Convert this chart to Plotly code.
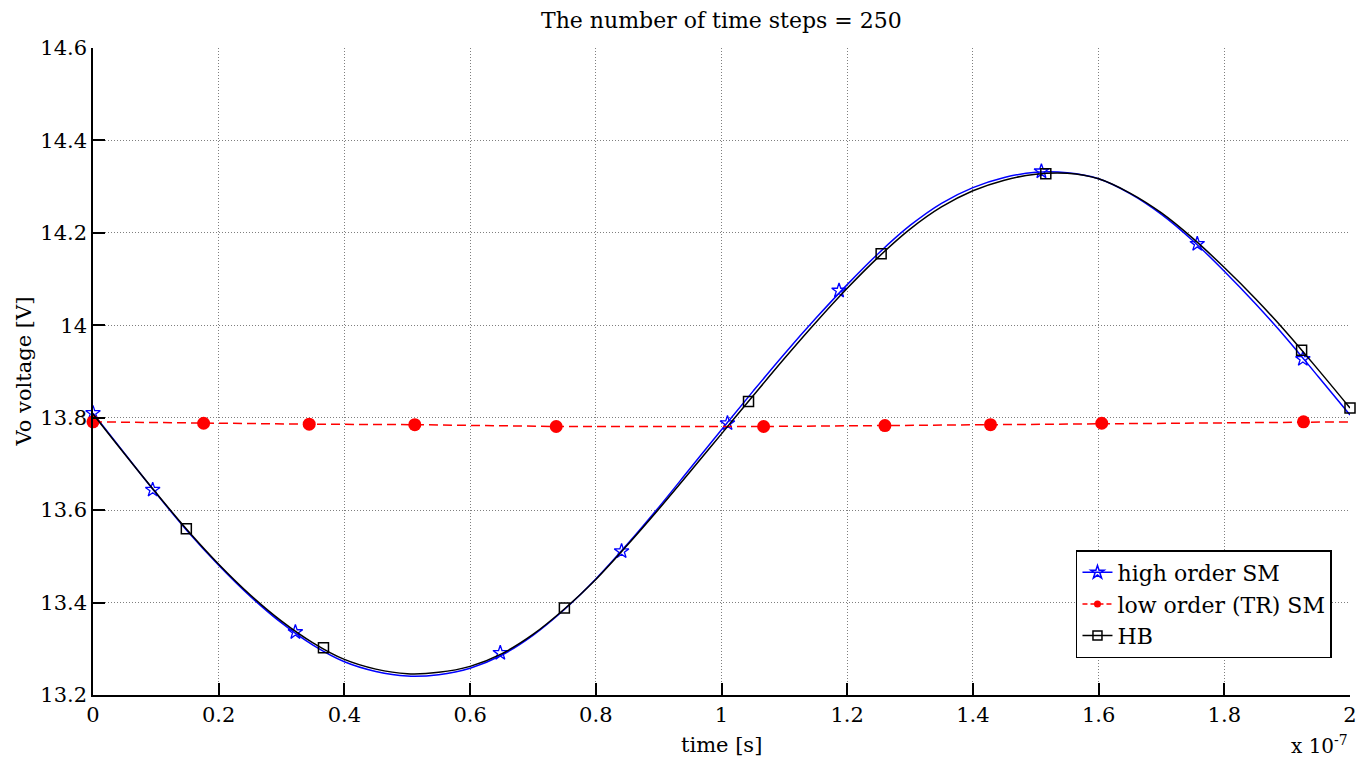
import plotly.graph_objects as go

# ---------------- data (time in units of 1e-7 s) ----------------
hi_t = [0, 0.05, 0.1, 0.15, 0.2, 0.25, 0.3, 0.35, 0.4, 0.45, 0.5, 0.55, 0.6, 0.65, 0.7,
        0.75, 0.8, 0.85, 0.9, 0.95, 1.0, 1.05, 1.1, 1.15, 1.2, 1.25, 1.3, 1.35, 1.4, 1.45,
        1.5, 1.55, 1.6, 1.65, 1.7, 1.75, 1.8, 1.85, 1.9, 1.95, 2.0]
hi_v = [13.810, 13.723, 13.637, 13.555, 13.481, 13.414, 13.356, 13.308, 13.272, 13.251,
        13.241, 13.244, 13.258, 13.286, 13.329, 13.385, 13.451, 13.526, 13.606, 13.690,
        13.774, 13.857, 13.938, 14.015, 14.088, 14.156, 14.216, 14.264, 14.298, 14.320,
        14.331, 14.330, 14.317, 14.285, 14.240, 14.183, 14.117, 14.046, 13.970, 13.888,
        13.806]
hi_mark_t = [0, 0.095, 0.322, 0.648, 0.841, 1.0095, 1.187, 1.509, 1.757, 1.925]
hi_mark_v = [13.810, 13.644, 13.336, 13.291, 13.511, 13.788, 14.075, 14.333, 14.176, 13.927]

lo_t = [0, 0.176, 0.344, 0.512, 0.737, 1.067, 1.260, 1.428, 1.605, 1.926, 2.0]
lo_v = [13.791, 13.788, 13.786, 13.785, 13.781, 13.781, 13.783, 13.785, 13.788, 13.791, 13.791]
lo_mark_t = [0, 0.176, 0.344, 0.512, 0.737, 1.067, 1.260, 1.428, 1.605, 1.926]
lo_mark_v = [13.791, 13.788, 13.786, 13.785, 13.781, 13.781, 13.783, 13.785, 13.788, 13.791]

hb_t = [0, 0.05, 0.1, 0.15, 0.2, 0.25, 0.3, 0.35, 0.4, 0.45, 0.5, 0.55, 0.6, 0.65, 0.7,
        0.75, 0.8, 0.85, 0.9, 0.95, 1.0, 1.05, 1.1, 1.15, 1.2, 1.25, 1.3, 1.35, 1.4, 1.45,
        1.5, 1.55, 1.6, 1.65, 1.7, 1.75, 1.8, 1.85, 1.9, 1.95, 2.0]
hb_v = [13.808, 13.722, 13.638, 13.557, 13.483, 13.417, 13.360, 13.313, 13.277, 13.256,
        13.246, 13.249, 13.262, 13.289, 13.331, 13.386, 13.450, 13.524, 13.602, 13.683,
        13.765, 13.847, 13.928, 14.006, 14.080, 14.148, 14.208, 14.256, 14.291, 14.314,
        14.327, 14.329, 14.317, 14.286, 14.243, 14.188, 14.125, 14.057, 13.983, 13.903,
        13.821]
hb_mark_t = [0.1485, 0.3667, 0.750, 1.043, 1.254, 1.516, 1.923, 2.0]
hb_mark_v = [13.560, 13.302, 13.388, 13.835, 14.155, 14.328, 13.946, 13.821]

x_ticks = [0, 0.2, 0.4, 0.6, 0.8, 1, 1.2, 1.4, 1.6, 1.8, 2]
x_tick_text = ["0", "0.2", "0.4", "0.6", "0.8", "1", "1.2", "1.4", "1.6", "1.8", "2"]
y_ticks = [13.2, 13.4, 13.6, 13.8, 14.0, 14.2, 14.4, 14.6]
y_tick_text = ["13.2", "13.4", "13.6", "13.8", "14", "14.2", "14.4", "14.6"]

names = ["high order SM", "low order (TR) SM", "HB"]
title_text = "The number of time steps = 250"

# ---------------- styling ----------------
FONT = "DejaVu Serif"
BLUE = "#0000ff"
RED = "#ff0000"
BLACK = "#000000"

fig = go.Figure()

# high order SM
fig.add_trace(go.Scatter(x=hi_t, y=hi_v, mode="lines", line=dict(color=BLUE, width=1.5, shape="spline"),
                         showlegend=False, cliponaxis=False))
fig.add_trace(go.Scatter(x=hi_mark_t, y=hi_mark_v, mode="markers",
                         marker=dict(symbol="star-open", size=11, color=BLUE, line=dict(width=1.3, color=BLUE)),
                         showlegend=False, cliponaxis=False))
# low order
fig.add_trace(go.Scatter(x=lo_t, y=lo_v, mode="lines", line=dict(color=RED, width=1.5, dash="9px,5px"),
                         showlegend=False, cliponaxis=False))
fig.add_trace(go.Scatter(x=lo_mark_t, y=lo_mark_v, mode="markers",
                         marker=dict(symbol="circle", size=13, color=RED),
                         showlegend=False, cliponaxis=False))
# HB
fig.add_trace(go.Scatter(x=hb_t, y=hb_v, mode="lines", line=dict(color=BLACK, width=1.5, shape="spline"),
                         showlegend=False, cliponaxis=False))
fig.add_trace(go.Scatter(x=hb_mark_t, y=hb_mark_v, mode="markers",
                         marker=dict(symbol="square-open", size=10, color=BLACK, line=dict(width=1.5, color=BLACK)),
                         showlegend=False, cliponaxis=False))

# legend entries
fig.add_trace(go.Scatter(x=[None], y=[None], mode="lines+markers", name=names[0],
                         line=dict(color=BLUE, width=1.5),
                         marker=dict(symbol="star-open", size=10, color=BLUE, line=dict(width=1.5, color=BLUE))))
fig.add_trace(go.Scatter(x=[None], y=[None], mode="lines+markers", name=names[1],
                         line=dict(color=RED, width=1.5, dash="5px,3px"),
                         marker=dict(symbol="circle", size=7, color=RED)))
fig.add_trace(go.Scatter(x=[None], y=[None], mode="lines+markers", name=names[2],
                         line=dict(color=BLACK, width=1.5),
                         marker=dict(symbol="square-open", size=9, color=BLACK, line=dict(width=1.5, color=BLACK))))

axis_common = dict(
    showline=True, linecolor=BLACK, linewidth=1.5, mirror=False,
    ticks="inside", ticklen=12, tickwidth=1.5, tickcolor=BLACK,
    showgrid=True, gridcolor="#7f7f7f", gridwidth=1, griddash="1px,2px",
    zeroline=False, tickfont=dict(family=FONT, size=21, color=BLACK),
)

fig.update_layout(
    width=1371, height=765,
    margin=dict(l=93, r=21, t=48, b=70),
    paper_bgcolor="white", plot_bgcolor="white",
    font=dict(family=FONT, color=BLACK),
    xaxis=dict(range=[0, 2], tickvals=x_ticks, ticktext=x_tick_text, **axis_common),
    yaxis=dict(range=[13.2, 14.6], tickvals=y_ticks, ticktext=y_tick_text, **axis_common),
    legend=dict(x=0.782, y=0.224, xanchor="left", yanchor="top",
                bgcolor="white", bordercolor=BLACK, borderwidth=1.5,
                font=dict(family=FONT, size=22, color=BLACK),
                itemwidth=30, tracegroupgap=0),
    annotations=[
        dict(text=title_text, xref="paper", yref="paper", x=0.5, y=1, yshift=28,
             showarrow=False, font=dict(family=FONT, size=22, color=BLACK),
             xanchor="center", yanchor="middle"),
        dict(text="time [s]", xref="paper", yref="paper", x=0.5, y=0, yshift=-50,
             showarrow=False, font=dict(family=FONT, size=21, color=BLACK),
             xanchor="center", yanchor="middle"),
        dict(text="Vo voltage [V]", xref="paper", yref="paper", x=0, y=0.5, xshift=-70,
             textangle=-90, showarrow=False, font=dict(family=FONT, size=21, color=BLACK),
             xanchor="center", yanchor="middle"),
        dict(text="x 10<sup>-7</sup>", xref="paper", yref="paper", x=1, y=0, yshift=-50,
             showarrow=False, font=dict(family=FONT, size=20, color=BLACK),
             xanchor="right", yanchor="middle"),
    ],
)

fig.write_html("out.html")
